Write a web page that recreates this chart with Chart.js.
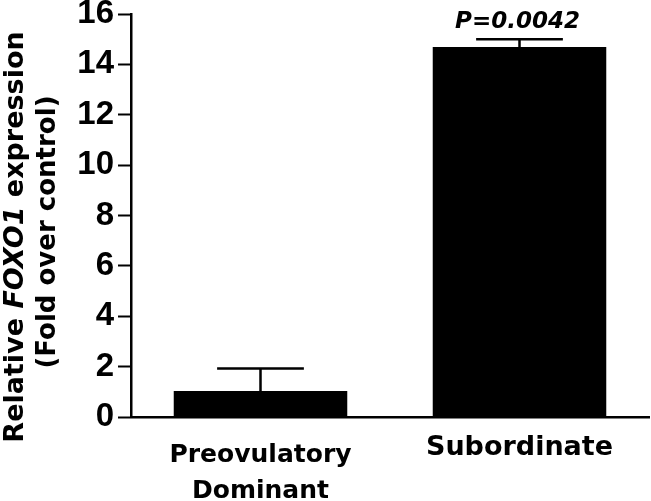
<!DOCTYPE html>
<html>
<head>
<meta charset="utf-8">
<script src="https://cdn.jsdelivr.net/npm/chart.js"></script>
<style>
  html, body { margin: 0; padding: 0; background: #fff; }
  #wrap { width: 651px; height: 501px; position: relative; }
</style>
</head>
<body>
<div id="wrap"><canvas id="foxoChart"></canvas></div>
<script>
// data
const categories = [['Preovulatory', 'Dominant'], 'Subordinate'];
const meanValues = [1.03, 14.69];
const semValues = [0.90, 0.31];
const yTicks = [0, 2, 4, 6, 8, 10, 12, 14, 16];
const pLabel = 'P=0.0042';

Chart.defaults.font.family = "'DejaVu Sans', sans-serif";
Chart.defaults.color = '#000';

// error bars (upward only)
const errorBars = {
  id: 'errorBars',
  afterDatasetsDraw(chart) {
    const ctx = chart.ctx;
    const meta = chart.getDatasetMeta(0);
    const y = chart.scales.y;
    ctx.save();
    ctx.strokeStyle = '#000';
    ctx.lineWidth = 2.5;
    meta.data.forEach((bar, i) => {
      const top = y.getPixelForValue(meanValues[i] + semValues[i]);
      const half = bar.width * 0.25;
      ctx.beginPath();
      ctx.moveTo(bar.x, bar.y);
      ctx.lineTo(bar.x, top);
      ctx.moveTo(bar.x - half, top);
      ctx.lineTo(bar.x + half, top);
      ctx.stroke();
    });
    // significance label above second bar
    const b = meta.data[1];
    ctx.font = "bold oblique 23px 'DejaVu Sans'";
    ctx.fillStyle = '#000';
    ctx.textAlign = 'center';
    ctx.textBaseline = 'alphabetic';
    ctx.fillText(pLabel, b.x - 2, y.getPixelForValue(meanValues[1] + semValues[1]) - 11);
    ctx.restore();
  }
};

// y title with italic gene name
const yTitle = {
  id: 'yTitle',
  afterDraw(chart) {
    const ctx = chart.ctx;
    ctx.save();
    ctx.fillStyle = '#000';
    ctx.textBaseline = 'alphabetic';
    ctx.textAlign = 'left';
    const parts = [
      ['Relative ', "bold 27px 'DejaVu Sans'"],
      ['FOXO1', "bold oblique 27px 'DejaVu Sans'"],
      [' expression', "bold 27px 'DejaVu Sans'"]
    ];
    let total = 0;
    parts.forEach(p => { ctx.font = p[1]; total += ctx.measureText(p[0]).width; });
    ctx.translate(23, 237);
    ctx.rotate(-Math.PI / 2);
    let x = -total / 2;
    parts.forEach(p => {
      ctx.font = p[1];
      ctx.fillText(p[0], x, 0);
      x += ctx.measureText(p[0]).width;
    });
    ctx.restore();

    ctx.save();
    ctx.fillStyle = '#000';
    ctx.font = "bold 26px 'DejaVu Sans'";
    ctx.textAlign = 'center';
    ctx.translate(55, 232);
    ctx.rotate(-Math.PI / 2);
    ctx.fillText('(Fold over control)', 0, 0);
    ctx.restore();
  }
};

const ctx = document.getElementById('foxoChart');
new Chart(ctx, {
  type: 'bar',
  data: {
    labels: categories,
    datasets: [{
      data: meanValues,
      backgroundColor: '#000',
      borderWidth: 0,
      categoryPercentage: 1.0,
      barPercentage: 0.67
    }]
  },
  options: {
    responsive: true,
    maintainAspectRatio: false,
    animation: false,
    layout: { padding: { top: 14, right: 2, bottom: 0, left: 0 } },
    plugins: { legend: { display: false }, tooltip: { enabled: false } },
    scales: {
      x: {
        grid: { display: false },
        border: { display: true, color: '#000', width: 2.5 },
        ticks: {
          padding: 12,
          color: '#000',
          font: (c) => c.index === 1
            ? { size: 27, weight: 'bold', lineHeight: 0.8 }
            : { size: 25, weight: 'bold', lineHeight: 1.45 }
        },
        afterFit(s) { s.height = 84; s.paddingLeft = 0; s.paddingRight = 0; }
      },
      y: {
        min: 0,
        max: 16,
        afterBuildTicks(s) { s.ticks = yTicks.map(v => ({ value: v })); },
        grid: { drawOnChartArea: false, drawTicks: true, tickLength: 13, tickWidth: 2, tickColor: '#000' },
        border: { display: true, color: '#000', width: 2.5 },
        ticks: {
          padding: 4,
          color: '#000',
          font: { family: "'Liberation Sans', Arial, sans-serif", size: 33, weight: 'bold' }
        },
        afterFit(s) { s.width = 131; s.paddingTop = 0; s.paddingBottom = 0; }
      }
    }
  },
  plugins: [errorBars, yTitle]
});
</script>
</body>
</html>
